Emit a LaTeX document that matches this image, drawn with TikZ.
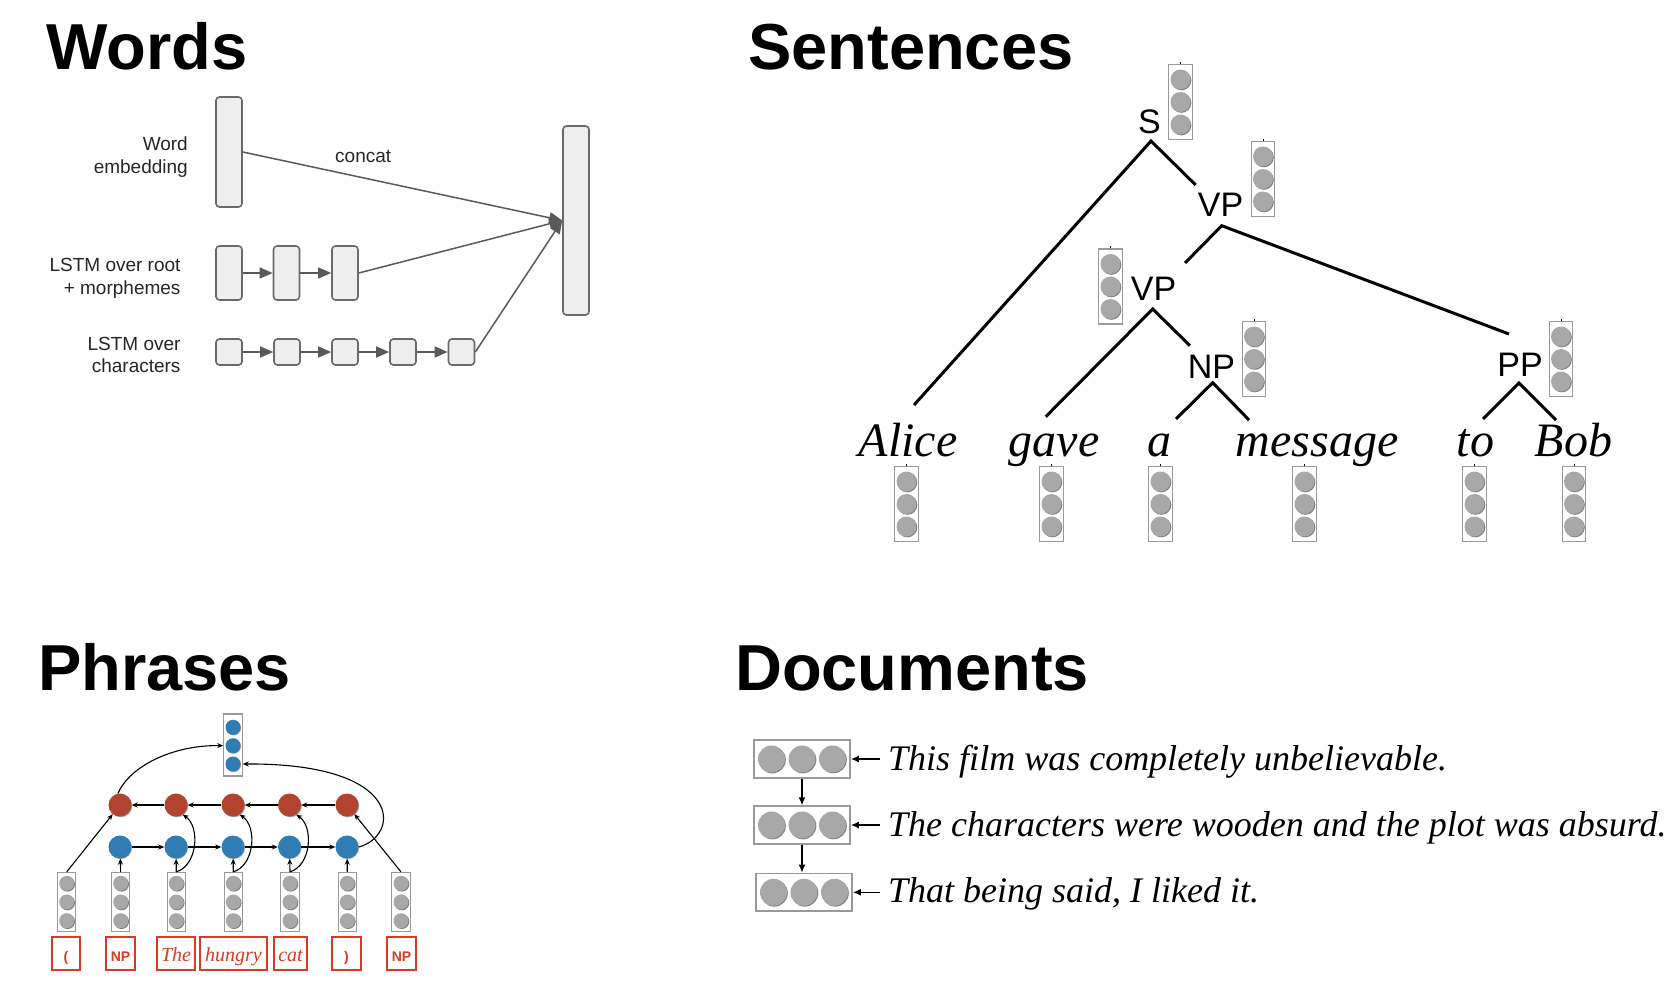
\documentclass[tikz,border=0pt]{standalone}
\usepackage{fontspec}
\setmainfont{Liberation Serif}
\setsansfont{Liberation Sans}
\newfontfamily\hel{Liberation Sans}
\usetikzlibrary{arrows.meta,calc}
\definecolor{wfill}{HTML}{EEEEEE}
\definecolor{wdraw}{HTML}{6A6A6A}
\definecolor{warr}{HTML}{5A5A5A}
\definecolor{gcirc}{HTML}{A8A8A8}
\definecolor{gshad}{HTML}{7C7C7C}
\definecolor{vbord}{HTML}{9A9A9A}
\definecolor{pred}{HTML}{B2432F}
\definecolor{pblue}{HTML}{2F7DB2}
\definecolor{lred}{HTML}{D83A24}
\tikzset{
 wbox/.style={draw=wdraw, fill=wfill, line width=1.6pt, rounded corners=3.5pt, inner sep=0pt, minimum width=26pt},
 warrow/.style={draw=warr, line width=1.5pt, -{Triangle[length=13pt,width=11pt]}},
 wlab/.style={font=\hel\fontsize{19}{19}\selectfont, text=black!85, inner sep=0pt, anchor=base east},
 ttl/.style={font=\hel\bfseries\fontsize{65}{65}\selectfont, inner sep=0pt, anchor=base west},
 vbox/.style={draw=vbord, fill=white, line width=1.3pt, minimum width=23.5pt, minimum height=75pt, inner sep=0pt},
 gdot/.style={circle, fill=gcirc, minimum size=#1, inner sep=0pt,
   preaction={fill=gshad, transform canvas={xshift=0.8pt,yshift=-0.8pt}}},
 gdot/.default=20pt,
 tick/.style={line width=0.8pt},
 tlab/.style={font=\hel\fontsize{34}{34}\selectfont, inner sep=0pt, anchor=base},
 wword/.style={font=\itshape\fontsize{48}{48}\selectfont, inner sep=0pt, anchor=base},
 tline/.style={line width=3pt},
 pvec/.style={draw=vbord, fill=white, line width=1.2pt, minimum width=18.3pt, minimum height=59pt, inner sep=0pt},
 rdot/.style={circle, fill=pred, minimum size=23pt, inner sep=0pt,
   preaction={fill=black!35, transform canvas={xshift=0.8pt,yshift=-0.8pt}}},
 bdot/.style={circle, fill=pblue, minimum size=#1, inner sep=0pt,
   preaction={fill=black!35, transform canvas={xshift=0.6pt,yshift=-0.6pt}}},
 bdot/.default=23pt,
 parr/.style={draw=black, line width=1.1pt, -{Stealth[length=6pt,width=5pt]}},
 lbox/.style={draw=lred, line width=1.3pt, text=lred, inner sep=0pt, minimum height=33pt, text height=20.5pt, text depth=4.1pt},
 lsans/.style={font=\hel\bfseries\fontsize{14}{14}\selectfont},
 lser/.style={font=\itshape\fontsize{20}{20}\selectfont},
 dbox/.style={draw=vbord, fill=white, line width=1.6pt, minimum width=96pt, minimum height=37.7pt, inner sep=0pt},
 darr/.style={draw=black, line width=1.5pt, -{Latex[length=8pt,width=7pt]}},
 dtext/.style={font=\itshape\fontsize{36}{36}\selectfont, inner sep=0pt, anchor=base west},
}
\newcommand\mkvec[3]{%
  \node[vbox] (#1) at (#2,#3) {};
  \node[gdot] (#1-a) at (#2,#3-22.5) {};
  \node[gdot] (#1-b) at (#2,#3) {};
  \node[gdot] (#1-c) at (#2,#3+22.5) {};
  \draw[tick] (#1.north) -- ++(0,-2);}
\newcommand\mkpvec[2]{%
  \node[pvec] (#1) at (#2,902) {};
  \node[gdot=15pt] (#1-a) at (#2,883.3) {};
  \node[gdot=15pt] (#1-b) at (#2,902) {};
  \node[gdot=15pt] (#1-c) at (#2,920.7) {};}
\newcommand\mkdoc[3]{%
  \node[dbox] (#1) at (#2,#3) {};
  \node[gdot=27pt] (#1-a) at (#2-30.5,#3) {};
  \node[gdot=27pt] (#1-b) at (#2,#3) {};
  \node[gdot=27pt] (#1-c) at (#2+30.5,#3) {};}
\begin{document}
\begin{tikzpicture}[x=1pt,y=-1pt]
\useasboundingbox (0,0) rectangle (1674,1001);
\fill[white] (0,0) rectangle (1674,1001);
% ---------------- titles
\node[ttl] (tw) at (46,69) {Words};
\node[ttl] (tsent) at (748,69) {Sentences};
\node[ttl] (tphr) at (38,690) {Phrases};
\node[ttl] (tdoc) at (735,690) {Documents};
% ---------------- Words
\node[wbox, minimum height=110pt] (we) at (229,152) {};
\node[wbox, minimum height=189pt] (rb) at (576,220.5) {};
\node[wbox, minimum height=54pt] (r1) at (229,273) {};
\node[wbox, minimum height=54pt] (r2) at (286.5,273) {};
\node[wbox, minimum height=54pt] (r3) at (345,273) {};
\node[wbox, minimum height=26pt] (c1) at (229,352) {};
\node[wbox, minimum height=26pt] (c2) at (287,352) {};
\node[wbox, minimum height=26pt] (c3) at (345,352) {};
\node[wbox, minimum height=26pt] (c4) at (403,352) {};
\node[wbox, minimum height=26pt] (c5) at (461.5,352) {};
\node[wlab] (lw1) at (188,150.7) {Word};
\node[wlab] (lw2) at (188,173) {embedding};
\node[wlab] (lr1) at (180.7,271.7) {LSTM over root};
\node[wlab] (lr2) at (180.7,294) {+ morphemes};
\node[wlab] (lc1) at (180.7,350.7) {LSTM over};
\node[wlab] (lc2) at (180.7,372.7) {characters};
\node[wlab, anchor=base west] (lcc) at (335,162) {concat};
\draw[warrow] (we.east) -- (rb.west);
\draw[warrow] (r3.east) -- (rb.west);
\draw[warrow] (c5.east) -- (rb.west);
\draw[warrow] (r1.east) -- (r2.west);
\draw[warrow] (r2.east) -- (r3.west);
\draw[warrow] (c1.east) -- (c2.west);
\draw[warrow] (c2.east) -- (c3.west);
\draw[warrow] (c3.east) -- (c4.west);
\draw[warrow] (c4.east) -- (c5.west);
% ---------------- Sentences
\node[tlab] (nS) at (1149.5,133) {S};
\node[tlab] (nVP1) at (1220.5,216.7) {VP};
\node[tlab] (nVP2) at (1153.5,300) {VP};
\node[tlab] (nNP) at (1211.5,378) {NP};
\node[tlab] (nPP) at (1520,376) {PP};
\mkvec{vS}{1180.5}{102}
\mkvec{vVP1}{1263}{179}
\mkvec{vVP2}{1110.5}{286.5}
\mkvec{vNP}{1254}{359}
\mkvec{vPP}{1561}{359}
\node[wword] (wA) at (908,456.7) {Alice};
\node[wword] (wG) at (1054,456.7) {gave};
\node[wword] (wa) at (1159,456.7) {a};
\node[wword] (wM) at (1317,456.7) {message};
\node[wword] (wT) at (1475.5,456.7) {to};
\node[wword] (wB) at (1573.5,456.7) {Bob};
\mkvec{vA}{906.5}{504}
\mkvec{vG}{1051.5}{504}
\mkvec{va}{1160.5}{504}
\mkvec{vM}{1304.5}{504}
\mkvec{vT}{1474.5}{504}
\mkvec{vB}{1574}{504}
\coordinate (aS) at (1151,141);
\coordinate (aVP1) at (1221.7,225.7);
\coordinate (aVP2) at (1152.7,309);
\coordinate (aNP) at (1212.7,382.7);
\coordinate (aPP) at (1519,383);
\coordinate (eA) at (914,405);
\coordinate (eVP1) at (1195.7,185);
\coordinate (eVP2) at (1185,263);
\coordinate (ePP) at (1509,334);
\coordinate (eG) at (1045.7,416.7);
\coordinate (eNP) at (1190,345.7);
\coordinate (ea) at (1176,419);
\coordinate (eM) at (1249,420);
\coordinate (eT) at (1483,419);
\coordinate (eB) at (1556,420);
\draw[tline] (eA) -- (aS) -- (eVP1);
\draw[tline] (eVP2) -- (aVP1) -- (ePP);
\draw[tline] (eG) -- (aVP2) -- (eNP);
\draw[tline] (ea) -- (aNP) -- (eM);
\draw[tline] (eT) -- (aPP) -- (eB);
% ---------------- Phrases
\node[pvec, minimum height=62pt] (tb) at (233,745) {};
\node[bdot=15pt] (tb-a) at (233,727.3) {};
\node[bdot=15pt] (tb-b) at (233,745.7) {};
\node[bdot=15pt] (tb-c) at (233,764) {};
\foreach \i/\x in {1/120,2/176,3/233,4/289.5,5/347}{
  \node[rdot] (r\i) at (\x,805) {};
  \node[bdot] (b\i) at (\x,847) {};
}
\mkpvec{g1}{66.7}
\mkpvec{g2}{120.7}
\mkpvec{g3}{176.3}
\mkpvec{g4}{233.3}
\mkpvec{g5}{290}
\mkpvec{g6}{347.3}
\mkpvec{g7}{401}
\node[lbox, lsans, minimum width=28pt] (l1) at (66,953.5) {(};
\node[lbox, lsans, minimum width=29pt] (l2) at (120.5,953.5) {NP};
\node[lbox, lser, minimum width=38pt] (l3) at (176,953.5) {The};
\node[lbox, lser, minimum width=67pt] (l4) at (233.5,953.5) {hungry};
\node[lbox, lser, minimum width=33pt] (l5) at (290.5,953.5) {cat};
\node[lbox, lsans, minimum width=29pt] (l6) at (346.5,953.5) {)};
\node[lbox, lsans, minimum width=29pt] (l7) at (401.5,953.5) {NP};
\draw[parr] (b1) -- (b2);
\draw[parr] (b2) -- (b3);
\draw[parr] (b3) -- (b4);
\draw[parr] (b4) -- (b5);
\draw[parr] (r5) -- (r4);
\draw[parr] (r4) -- (r3);
\draw[parr] (r3) -- (r2);
\draw[parr] (r2) -- (r1);
\draw[parr] (g1.north) -- (r1);
\draw[parr] (g7.north) -- (r5);
\draw[parr] (g2.north) -- (b1);
\draw[parr] (g3.north) -- (b2);
\draw[parr] (g4.north) -- (b3);
\draw[parr] (g5.north) -- (b4);
\draw[parr] (g6.north) -- (b5);
\draw[parr] (g3.north) .. controls +(21.5,-6.7) and +(17.5,12) .. (r2.-55);
\draw[parr] (g4.north) .. controls +(21.5,-6.7) and +(17.5,12) .. (r3.-55);
\draw[parr] (g5.north) .. controls +(21.5,-6.7) and +(17.5,12) .. (r4.-55);
\draw[parr] (r1.100) .. controls +(12,-28) and +(-49,-1) .. (tb.west |- tb-b);
\draw[parr] (b5.east) .. controls +(41.5,-11) and +(163,-1) .. (tb.east |- tb-c);
% ---------------- Documents
\mkdoc{d1}{802}{759}
\mkdoc{d2}{802}{825}
\mkdoc{d3}{804}{892.3}
\node[dtext] (t1) at (888,770.7) {This film was completely unbelievable.};
\node[dtext] (t2) at (888,836) {The characters were wooden and the plot was absurd.};
\node[dtext] (t3) at (888,902.7) {That being said, I liked it.};
\draw[darr, shorten <=8pt] (d1.east -| t1.west) -- (d1.east);
\draw[darr, shorten <=8pt] (d2.east -| t2.west) -- (d2.east);
\draw[darr, shorten <=8pt] (d3.east -| t3.west) -- (d3.east);
\draw[darr] (d1.south) -- (d2.north);
\draw[darr] (d2.south) -- (d2.south |- d3.north);
\end{tikzpicture}
\end{document}
